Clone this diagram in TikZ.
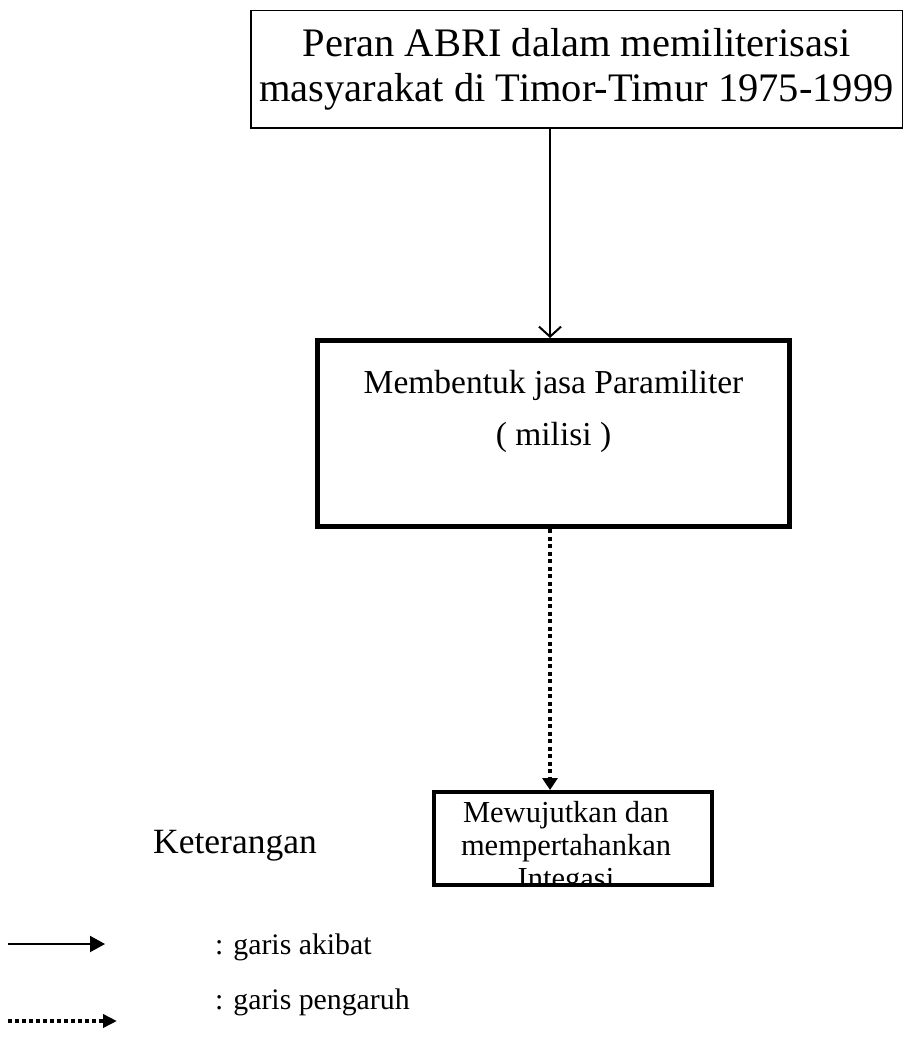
\documentclass[tikz,border=0pt]{standalone}
\usepackage{fontspec}
\setmainfont{Liberation Serif}
\usetikzlibrary{arrows.meta}
\begin{document}
\begin{tikzpicture}[x=1pt,y=-1pt,
    kotak/.style={draw,rectangle,inner sep=0pt},
    teks/.style={inner sep=0pt,anchor=base,font=\fontsize{33.5}{40}\selectfont},
    judul/.style={teks,font=\fontsize{40.5}{47}\selectfont},
    kecil/.style={teks,font=\fontsize{30.5}{36}\selectfont},
    legenda/.style={teks,anchor=base west,font=\fontsize{29.8}{36}\selectfont},
    akibat/.style={line width=2pt,-{Triangle[length=15pt,width=16pt]}},
    pengaruh/.style={line width=3.5pt,dash pattern=on 3.5pt off 3.5pt,-{Triangle[length=14pt,width=13pt]}}]
    \useasboundingbox (0,0) rectangle (911,1040);
    % kotak
    \node[kotak,line width=1.5pt,minimum width=651.5pt,minimum height=117.5pt] (peran) at (576.5,69.5) {};
    \node[judul] (peranA) at (576.5,57) {Peran ABRI dalam memiliterisasi};
    \node[judul] (peranB) at (576.5,102) {masyarakat di Timor-Timur 1975-1999};
    \node[kotak,line width=5pt,minimum width=472pt,minimum height=186pt] (milisi) at (553.5,433.5) {};
    \node[teks] (milisiA) at (553.5,393) {Membentuk jasa Paramiliter};
    \node[teks] (milisiB) at (553.5,445) {( milisi )};
    \begin{scope}
      \clip (434,792) rectangle (712,883);
      \node[kecil] (integrasiA) at (566,822) {Mewujutkan dan};
      \node[kecil] (integrasiB) at (566,855) {mempertahankan};
      \node[kecil] (integrasiC) at (566,888) {Integasi};
    \end{scope}
    \node[kotak,line width=4pt,minimum width=278pt,minimum height=93pt] (integrasi) at (573,838.5) {};
    % panah
    \coordinate (poros) at (550,0);
    \draw[line width=2pt,-{Straight Barb[length=10pt,width=22pt]}] (poros |- peran.south) -- (poros |- milisi.north);
    \draw[line width=4pt,dash pattern=on 4pt off 3.5pt,-{Triangle[length=12pt,width=15pt]}] (poros |- milisi.south) -- (poros |- integrasi.north);
    % keterangan
    \node[teks,anchor=base west,font=\fontsize{35.5}{42}\selectfont] (ket) at (153,853) {Keterangan};
    \coordinate (akibatA) at (8,944);
    \coordinate (akibatB) at (105,944);
    \draw[akibat] (akibatA) -- (akibatB);
    \node[legenda] (garisA) at (215,954) {: garis akibat};
    \coordinate (pengaruhA) at (8,1021);
    \coordinate (pengaruhB) at (117,1021);
    \draw[pengaruh] (pengaruhA) -- (pengaruhB);
    \node[legenda] (garisB) at (215,1009) {: garis pengaruh};
\end{tikzpicture}
\end{document}
